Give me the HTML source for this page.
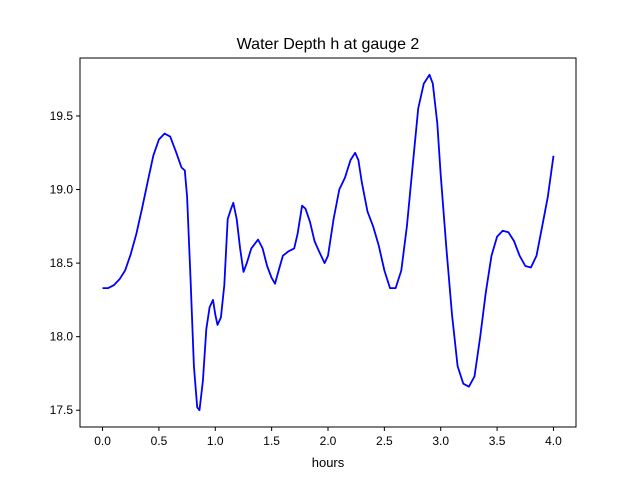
<!DOCTYPE html>
<html><head><meta charset="utf-8"><style>
body{margin:0;background:#fff;font-family:"Liberation Sans","DejaVu Sans",sans-serif}
</style></head><body>
<svg id="chart" width="640" height="480" xmlns="http://www.w3.org/2000/svg">
<rect width="640" height="480" fill="#fff"/>
<text x="328" y="49" font-size="16" text-anchor="middle">Water Depth h at gauge 2</text>
<g id="plot"></g>
<rect x="80" y="58" width="496" height="369" fill="none" stroke="#000" stroke-width="1"/>
<text x="328" y="467" font-size="13" text-anchor="middle">hours</text>
</svg>
<script>
const xs=[0,0.05,0.1,0.15,0.2,0.25,0.3,0.35,0.4,0.45,0.5,0.55,0.6,0.65,0.7,0.73,0.75,0.78,0.81,0.84,0.86,0.89,0.92,0.95,0.98,1.0,1.02,1.05,1.08,1.11,1.14,1.16,1.19,1.22,1.25,1.28,1.32,1.38,1.42,1.46,1.5,1.53,1.57,1.6,1.65,1.7,1.73,1.77,1.8,1.84,1.88,1.92,1.97,2.0,2.05,2.1,2.15,2.2,2.24,2.27,2.3,2.35,2.4,2.45,2.5,2.55,2.6,2.65,2.7,2.75,2.8,2.85,2.9,2.93,2.97,3.0,3.05,3.1,3.15,3.2,3.25,3.3,3.35,3.4,3.45,3.5,3.55,3.6,3.65,3.7,3.75,3.8,3.85,3.9,3.95,4.0];
const ys=[18.33,18.33,18.35,18.39,18.45,18.56,18.7,18.87,19.05,19.23,19.34,19.38,19.36,19.26,19.15,19.13,18.95,18.4,17.8,17.52,17.5,17.7,18.05,18.2,18.25,18.15,18.08,18.13,18.35,18.8,18.87,18.91,18.8,18.6,18.44,18.5,18.6,18.66,18.6,18.48,18.4,18.36,18.47,18.55,18.58,18.6,18.7,18.89,18.87,18.78,18.65,18.58,18.5,18.55,18.8,19.0,19.08,19.2,19.25,19.2,19.05,18.85,18.75,18.62,18.45,18.33,18.33,18.45,18.75,19.15,19.55,19.72,19.78,19.72,19.45,19.1,18.6,18.15,17.8,17.68,17.66,17.73,18.0,18.3,18.55,18.68,18.72,18.71,18.65,18.55,18.48,18.47,18.55,18.75,18.95,19.23];
const xTicks=[0,0.5,1,1.5,2,2.5,3,3.5,4];
const xTickLabels=["0.0","0.5","1.0","1.5","2.0","2.5","3.0","3.5","4.0"];
const yTicks=[17.5,18,18.5,19,19.5];
const yTickLabels=["17.5","18.0","18.5","19.0","19.5"];
const X0=80,X1=576,Y0=58,Y1=427;
const xmin=-0.2,xmax=4.2;
const ymin=Math.min(...ys),ymax=Math.max(...ys),pad=(ymax-ymin)*0.05;
const ylo=ymin-pad,yhi=ymax+pad;
const sx=v=>X0+(v-xmin)/(xmax-xmin)*(X1-X0);
const sy=v=>Y1-(v-ylo)/(yhi-ylo)*(Y1-Y0);
const NS="http://www.w3.org/2000/svg";
const g=document.getElementById('plot');
function mk(t,a){const e=document.createElementNS(NS,t);for(const k in a)e.setAttribute(k,a[k]);g.appendChild(e);return e;}
xTicks.forEach((v,i)=>{
  const l=mk('line',{x1:sx(v),x2:sx(v),y1:Y1,y2:Y1+4,stroke:'#000'});
  
  
  const t=mk('text',{x:sx(v),y:Y1+18,'font-size':12,'text-anchor':'middle'});
  t.textContent=xTickLabels[i];
  
  
});
yTicks.forEach((v,i)=>{
  const l=mk('line',{x1:X0-4,x2:X0,y1:sy(v),y2:sy(v),stroke:'#000'});
  
  
  const t=mk('text',{x:X0-7,y:sy(v)+4,'font-size':12,'text-anchor':'end'});
  t.textContent=yTickLabels[i];
  
  
});
const pts=xs.map((x,i)=>sx(x).toFixed(1)+','+sy(ys[i]).toFixed(1)).join(' ');
const pl=mk('polyline',{points:pts,fill:'none',stroke:'#0000ff','stroke-width':1.8,'stroke-linejoin':'round'});


</script>
</body></html>
